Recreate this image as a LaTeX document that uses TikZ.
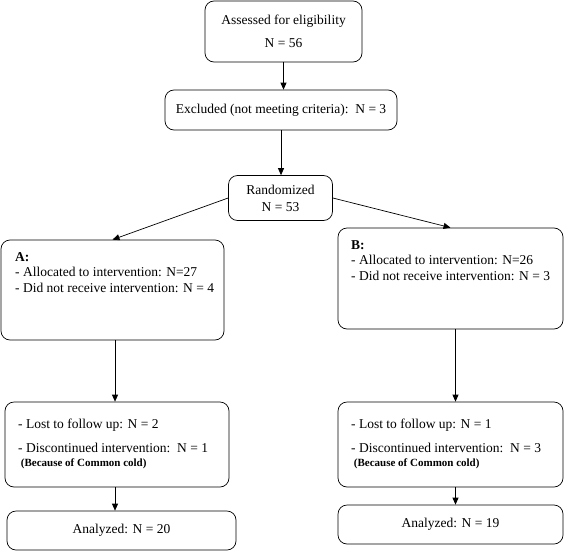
\documentclass[tikz,border=0pt]{standalone}
\usepackage{fontspec}
\setmainfont{Liberation Serif}
\usetikzlibrary{arrows.meta,positioning}

\begin{document}
\begin{tikzpicture}[x=1pt,y=-1pt]
  \tikzset{
    box/.style={draw, rounded corners=9pt, line width=0.7pt, inner sep=0pt,
      align=center, font=\fontsize{13.5}{15.5}\selectfont},
    boxtext/.style={inner sep=0pt, anchor=north west, align=left,
      font=\fontsize{13.5}{15.5}\selectfont},
    flow/.style={-{Triangle[length=7pt,width=6pt]}, line width=0.7pt},
  }
  \useasboundingbox (0,0) rectangle (564,551);
  % screening
  \node[box, minimum width=157, minimum height=61] (assess) at (283.5,31.5)
    {Assessed for eligibility\\[7pt] N = 56};
  \node[box, minimum width=232, minimum height=40] (excl) at (281,110)
    {Excluded (not meeting criteria):\ \ N = 3};
  \node[box, minimum width=104, minimum height=45] (rand) at (280.5,198)
    {Randomized\\[1.5pt] N = 53};
  % the two groups
  \node[box, minimum width=223, minimum height=100] (grpA) at (112.5,290) {};
  \node[boxtext] (grpAtxt) at (15,252)
    {\textbf{A:}\\ - Allocated to intervention: N=27\\ - Did not receive intervention: N = 4};
  \node[box, minimum width=225, minimum height=101] (grpB) at (450.5,278.5) {};
  \node[boxtext] (grpBtxt) at (351,240)
    {\textbf{B:}\\ - Allocated to intervention: N=26\\ - Did not receive intervention: N = 3};
  % follow up
  \node[box, minimum width=224, minimum height=85] (lossA) at (117,444.5) {};
  \node[boxtext] (lossAtxt) at (18,419)
    {- Lost to follow up: N = 2\\[8pt] - Discontinued intervention:\ \ N = 1\\[-1pt]
     {\fontsize{11}{12}\selectfont\bfseries\ (Because of Common cold)}};
  \node[box, minimum width=225, minimum height=85] (lossB) at (450.5,444.5) {};
  \node[boxtext] (lossBtxt) at (351,419)
    {- Lost to follow up: N = 1\\[8pt] - Discontinued intervention:\ \ N = 3\\[-1pt]
     {\fontsize{11}{12}\selectfont\bfseries\ (Because of Common cold)}};
  % analysis
  \node[box, minimum width=229, minimum height=39] (anaA) at (121.5,530.5) {Analyzed: N = 20};
  \node[box, minimum width=225, minimum height=39] (anaB) at (450.5,524.5) {Analyzed: N = 19};
  %
  \draw[flow] (assess.south) -- (assess.south |- excl.north);
  \draw[flow] (excl.south) -- (excl.south |- rand.north);
  \draw[flow] (rand.west) -- (grpA.north);
  \draw[flow] (rand.east) -- (grpB.north);
  \draw[flow] ([xshift=2.5pt]grpA.south) -- ([xshift=2.5pt]grpA.south |- lossA.north);
  \draw[flow] ([xshift=5pt]grpB.south) -- ([xshift=5pt]grpB.south |- lossB.north);
  \draw[flow] ([xshift=-2pt]lossA.south) -- ([xshift=-2pt]lossA.south |- anaA.north);
  \draw[flow] ([xshift=5pt]lossB.south) -- ([xshift=5pt]lossB.south |- anaB.north);
\end{tikzpicture}
\end{document}
